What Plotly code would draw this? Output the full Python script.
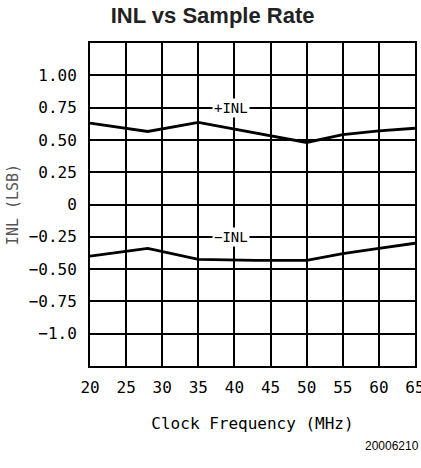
import plotly.graph_objects as go

freq_pos = [20, 28, 35, 43, 50, 55, 60, 65]
inl_pos = [0.63, 0.565, 0.635, 0.55, 0.48, 0.54, 0.57, 0.59]
freq_neg = [20, 28, 35, 43, 50, 55, 60, 65]
inl_neg = [-0.40, -0.34, -0.425, -0.433, -0.433, -0.38, -0.34, -0.30]

x_ticks = [20, 25, 30, 35, 40, 45, 50, 55, 60, 65]
y_tickvals = [1.0, 0.75, 0.5, 0.25, 0, -0.25, -0.5, -0.75, -1.0]
y_ticktext = ["1.00", "0.75", "0.50", "0.25", "0", "\u22120.25", "\u22120.50", "\u22120.75", "\u22121.0"]

FONT = "DejaVu Sans Mono"

fig = go.Figure()
fig.add_trace(go.Scatter(x=freq_pos, y=inl_pos, mode="lines",
                         line=dict(color="black", width=2.8), showlegend=False))
fig.add_trace(go.Scatter(x=freq_neg, y=inl_neg, mode="lines",
                         line=dict(color="black", width=2.8), showlegend=False))

fig.add_annotation(x=39.5, y=0.75, text="+INL", showarrow=False,
                   font=dict(family=FONT, size=14, color="black"),
                   bgcolor="white", xanchor="center", yanchor="middle")
fig.add_annotation(x=39.5, y=-0.25, text="\u2212INL", showarrow=False,
                   font=dict(family=FONT, size=14, color="black"),
                   bgcolor="white", xanchor="center", yanchor="middle")

fig.update_layout(
    width=421, height=468,
    margin=dict(l=90, r=6, t=43, b=102, autoexpand=False),
    paper_bgcolor="white", plot_bgcolor="white",
    title=dict(text="<b>INL vs Sample Rate</b>", x=0.505, xanchor="center",
               y=1 - 15 / 468, yanchor="middle",
               font=dict(family="Liberation Sans", size=22, color="#222")),
    font=dict(family=FONT, size=16, color="black"),
)
fig.update_xaxes(range=[19.999, 65.001], tickvals=x_ticks, ticktext=[str(v) for v in x_ticks],
                 showgrid=True, gridcolor="black", gridwidth=1.5,
                 showline=True, linecolor="black", linewidth=2, mirror=True,
                 ticks="", ticklabelstandoff=6, zeroline=False, automargin=False,
                 ticklabeloverflow="allow",
                 tickfont=dict(family=FONT, size=16),
                 title=dict(text="Clock Frequency (MHz)", standoff=22,
                            font=dict(family=FONT, size=16)))
fig.update_yaxes(range=[-1.25, 1.25], tickvals=y_tickvals, ticktext=y_ticktext,
                 showgrid=True, gridcolor="black", gridwidth=1.5,
                 showline=True, linecolor="black", linewidth=2, mirror=True,
                 ticks="", ticklabelstandoff=8, zeroline=False, automargin=False,
                 tickfont=dict(family=FONT, size=16),
                 title=dict(text="INL (LSB)", standoff=6,
                            font=dict(family=FONT, size=15, color="#555")))

fig.add_annotation(xref="paper", yref="paper", x=1.018, y=-0.248, text="20006210",
                   showarrow=False, xanchor="right", yanchor="middle",
                   font=dict(family="Liberation Sans", size=12, color="black"))

fig.write_html("out.html", post_script="document.body.style.margin='0';",
               config={"displayModeBar": False})
